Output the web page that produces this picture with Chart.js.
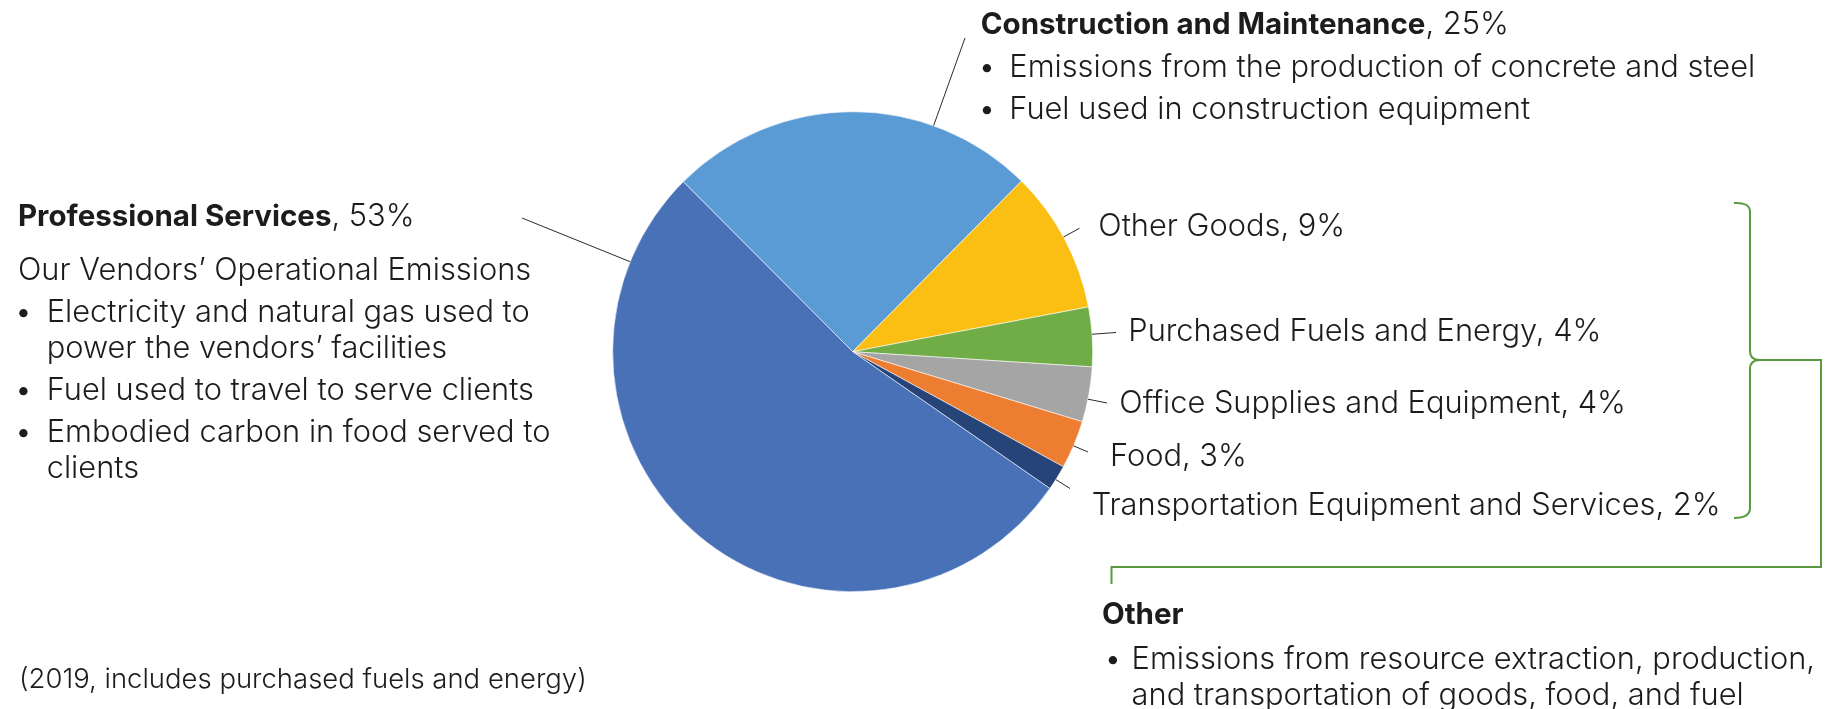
<!DOCTYPE html>
<html>
<head>
<meta charset="utf-8">
<script src="https://cdn.jsdelivr.net/npm/chart.js@4.4.1/dist/chart.umd.min.js"></script>
<style>
  html, body { margin: 0; padding: 0; background: #fff; }
  #wrap { position: relative; width: 1833px; height: 709px; }
</style>
</head>
<body>
<div id="wrap"><canvas id="pie"></canvas></div>
<script>
// Datos (orden horario, empezando por Construction)
const categories = [
  "Construction and Maintenance",
  "Other Goods",
  "Purchased Fuels and Energy",
  "Office Supplies and Equipment",
  "Food",
  "Transportation Equipment and Services",
  "Professional Services",
];
const shares = [24.9, 9.6, 4.0, 3.7, 3.25, 1.7, 52.9];
const shareLabels = ["25%", "9%", "4%", "4%", "3%", "2%", "53%"];
const colors = ["#5B9BD5", "#FBBF14", "#70AD47", "#A5A5A5", "#ED7D31", "#264478", "#4971B8"];

const proIntro = "Our Vendors\u2019 Operational Emissions";
const proBullets = [
  ["Electricity and natural gas used to", "power the vendors\u2019 facilities"],
  ["Fuel used to travel to serve clients"],
  ["Embodied carbon in food served to", "clients"],
];
const conBullets = [
  ["Emissions from the production of concrete and steel"],
  ["Fuel used in construction equipment"],
];
const otherTitle = "Other";
const otherBullets = [
  ["Emissions from resource extraction, production,", "and transportation of goods, food, and fuel"],
];
const footnote = "(2019, includes purchased fuels and energy)";

const FONT = '"Inter", "Lato", "Open Sans", sans-serif';
const TEXT = "#1c1c1c";
const GREEN = "#5A9A3F";

const fitSize = (ctx, weight, text, width) => {
  ctx.font = `${weight} 100px ${FONT}`;
  return (100 * width) / ctx.measureText(text).width;
};

// bold + regular en la misma línea
const drawRich = (ctx, x, y, bold, rest, bSize, rSize) => {
  ctx.font = `700 ${bSize}px ${FONT}`;
  ctx.fillText(bold, x, y);
  const w = ctx.measureText(bold).width;
  ctx.font = `300 ${rSize}px ${FONT}`;
  ctx.fillText(rest, x + w, y);
};

const drawBullets = (ctx, items, dotX, textX, y0, size) => {
  let y = y0;
  ctx.font = `300 ${size}px ${FONT}`;
  items.forEach((lines) => {
    ctx.textAlign = "center";
    ctx.fillText("\u2022", dotX, y);
    ctx.textAlign = "left";
    lines.forEach((line, j) => {
      ctx.fillText(line, textX, y);
      y += j < lines.length - 1 ? 36 : 0;
    });
    y += 42;
  });
};

// punto del borde del sector en dirección al extremo de la línea guía
const edgePoint = (arc, ax, ay) => {
  const { x, y, startAngle, endAngle, outerRadius } = arc.getProps(["x", "y", "startAngle", "endAngle", "outerRadius"], true);
  let a = Math.atan2(ay - y, ax - x);
  while (a < startAngle) a += Math.PI * 2;
  while (a > startAngle + Math.PI * 2) a -= Math.PI * 2;
  if (a > endAngle) {
    const dEnd = a - endAngle;
    const dStart = startAngle + Math.PI * 2 - a;
    a = dEnd < dStart ? endAngle : startAngle;
  }
  return [x + outerRadius * Math.cos(a), y + outerRadius * Math.sin(a)];
};

const calloutPlugin = {
  id: "callouts",
  afterDraw(chart) {
    const ctx = chart.ctx;
    const arcs = chart.getDatasetMeta(0).data;
    ctx.save();

    const reg = fitSize(ctx, 300, conBullets[0][0], 746);
    const bold = fitSize(ctx, 700, categories[0], 445);
    const note = fitSize(ctx, 300, footnote, 568);

    // líneas guía
    const anchors = [[965, 38], [1079.5, 228.3], [1116, 332.5], [1107, 403], [1088, 452], [1070, 488.5], [522, 218]];
    ctx.strokeStyle = "#2a2a2a";
    ctx.lineWidth = 1;
    anchors.forEach(([ax, ay], i) => {
      const [ex, ey] = edgePoint(arcs[i], ax, ay);
      ctx.beginPath();
      ctx.moveTo(ax, ay);
      ctx.lineTo(ex, ey);
      ctx.stroke();
    });

    ctx.fillStyle = TEXT;
    ctx.textBaseline = "alphabetic";
    ctx.textAlign = "left";

    // Professional Services
    drawRich(ctx, 18, 226, categories[6], ", " + shareLabels[6], bold, reg);
    ctx.font = `300 ${reg}px ${FONT}`;
    ctx.fillText(proIntro, 18, 280);
    drawBullets(ctx, proBullets, 23.5, 46.7, 322, reg);

    // Construction and Maintenance
    drawRich(ctx, 980.7, 34, categories[0], ", " + shareLabels[0], bold, reg);
    drawBullets(ctx, conBullets, 987, 1009.3, 77, reg);

    // sectores pequeños
    const labelPos = [null, [1098.3, 236], [1128.3, 340.5], [1119.3, 413], [1110, 466], [1091.7, 515]];
    ctx.font = `300 ${reg}px ${FONT}`;
    ctx.textAlign = "left";
    for (let i = 1; i <= 5; i++) {
      ctx.fillText(categories[i] + ", " + shareLabels[i], labelPos[i][0], labelPos[i][1]);
    }

    // llave verde y conector
    ctx.strokeStyle = GREEN;
    ctx.lineWidth = 2;
    ctx.beginPath();
    ctx.moveTo(1734, 203);
    ctx.quadraticCurveTo(1750, 202, 1750, 212);
    ctx.lineTo(1750, 351);
    ctx.quadraticCurveTo(1750, 360, 1760, 360);
    ctx.quadraticCurveTo(1750, 360, 1750, 369);
    ctx.lineTo(1750, 508);
    ctx.quadraticCurveTo(1750, 518, 1734, 518);
    ctx.stroke();
    ctx.beginPath();
    ctx.moveTo(1760, 360);
    ctx.lineTo(1821, 360);
    ctx.lineTo(1821, 567);
    ctx.lineTo(1111.5, 567);
    ctx.lineTo(1111.5, 584);
    ctx.stroke();

    // Other
    ctx.fillStyle = TEXT;
    ctx.font = `700 ${bold}px ${FONT}`;
    ctx.fillText(otherTitle, 1102, 624);
    drawBullets(ctx, otherBullets, 1113, 1131.6, 669, reg);

    // nota
    ctx.font = `300 ${note}px ${FONT}`;
    ctx.textAlign = "left";
    ctx.fillText(footnote, 19, 688);

    ctx.restore();
  },
};

new Chart(document.getElementById("pie"), {
  type: "pie",
  data: {
    labels: categories,
    datasets: [
      {
        data: shares,
        backgroundColor: colors,
        borderColor: "rgba(255,255,255,0.7)",
        borderWidth: 0.8,
        hoverOffset: 0,
      },
    ],
  },
  options: {
    responsive: true,
    maintainAspectRatio: false,
    animation: false,
    events: [],
    rotation: -44.9,
    radius: 240,
    layout: { padding: { left: 600, right: 727.6, top: 100, bottom: 105.6 } },
    plugins: {
      legend: { display: false },
      tooltip: { enabled: false },
    },
  },
  plugins: [calloutPlugin],
});
</script>
</body>
</html>
